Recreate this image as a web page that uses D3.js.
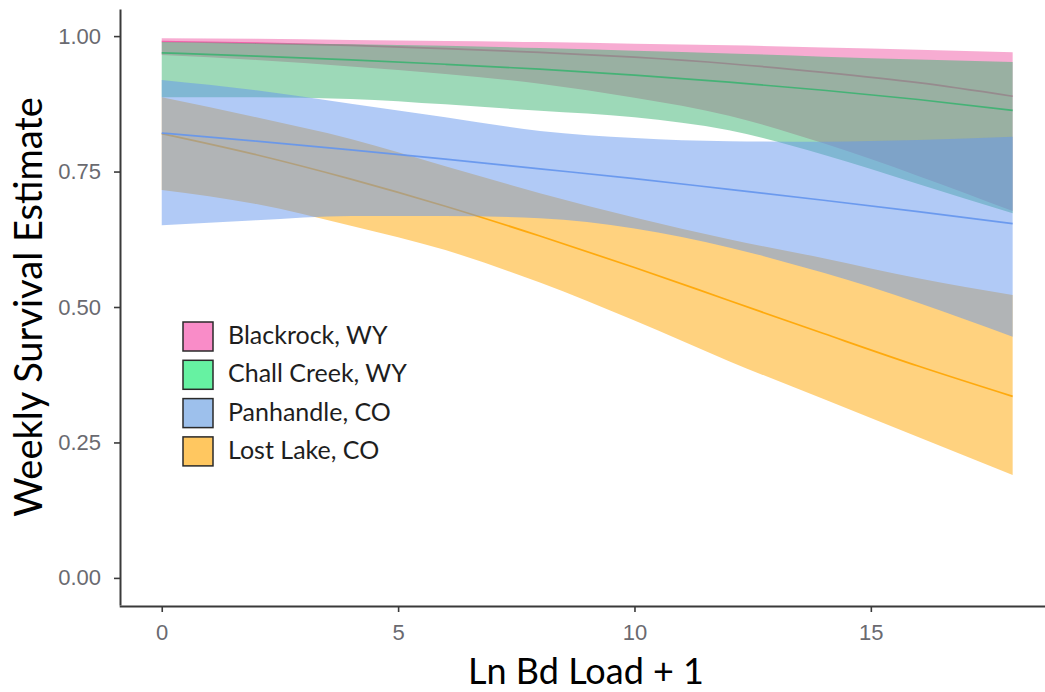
<!DOCTYPE html>
<html>
<head>
<meta charset="utf-8">
<script src="https://cdn.jsdelivr.net/npm/d3@7"></script>
<style>
html,body{margin:0;padding:0;background:#fff;overflow:hidden}
</style>
</head>
<body>
<svg id="chart" width="1045" height="692"></svg>
<script>
// ---- data ----
const bdLoad = [0, 2, 4, 6, 8, 10, 12, 14, 16, 18];

const blackrockFit   = [0.990, 0.987, 0.983, 0.977, 0.970, 0.961, 0.949, 0.933, 0.914, 0.889];
const blackrockUpper = [0.996, 0.995, 0.993, 0.991, 0.989, 0.986, 0.983, 0.979, 0.975, 0.970];
const blackrockLower = [0.965, 0.956, 0.944, 0.930, 0.912, 0.886, 0.853, 0.802, 0.742, 0.677];

const challFit   = [0.969, 0.963, 0.956, 0.948, 0.939, 0.928, 0.915, 0.900, 0.883, 0.863];
const challUpper = [0.989, 0.987, 0.985, 0.982, 0.978, 0.973, 0.968, 0.962, 0.957, 0.952];
const challLower = [0.887, 0.887, 0.884, 0.874, 0.862, 0.850, 0.826, 0.781, 0.727, 0.673];

const panhandleFit   = [0.821, 0.806, 0.790, 0.773, 0.755, 0.737, 0.717, 0.697, 0.676, 0.654];
const panhandleUpper = [0.919, 0.900, 0.875, 0.850, 0.825, 0.812, 0.806, 0.805, 0.808, 0.814];
const panhandleLower = [0.651, 0.660, 0.668, 0.668, 0.664, 0.645, 0.610, 0.563, 0.508, 0.445];

const lostLakeFit   = [0.820, 0.781, 0.736, 0.686, 0.631, 0.573, 0.512, 0.451, 0.391, 0.335];
const lostLakeUpper = [0.887, 0.850, 0.810, 0.760, 0.710, 0.665, 0.625, 0.590, 0.553, 0.522];
const lostLakeLower = [0.716, 0.690, 0.650, 0.605, 0.545, 0.475, 0.400, 0.330, 0.260, 0.190];

const siteNames   = ["Blackrock, WY", "Chall Creek, WY", "Panhandle, CO", "Lost Lake, CO"];
const drawOrder   = ["Blackrock, WY", "Chall Creek, WY", "Lost Lake, CO", "Panhandle, CO"];
const ribbonColors = ["#F05AA5", "#3CB371", "#6495ED", "#FFA500"];
const legendColors = ["#F98CC8", "#66F2A2", "#9DC0EC", "#FFC760"];

const yTicks = [0, 0.25, 0.5, 0.75, 1];
const xTicks = [0, 5, 10, 15];
const xTitle = "Ln Bd Load + 1";
const yTitle = "Weekly Survival Estimate";

// ---- build series ----
const seriesData = {
  "Blackrock, WY":   {fit: blackrockFit, lo: blackrockLower, hi: blackrockUpper},
  "Chall Creek, WY": {fit: challFit, lo: challLower, hi: challUpper},
  "Panhandle, CO":   {fit: panhandleFit, lo: panhandleLower, hi: panhandleUpper},
  "Lost Lake, CO":   {fit: lostLakeFit, lo: lostLakeLower, hi: lostLakeUpper}
};
const colorOf = d3.scaleOrdinal().domain(siteNames).range(ribbonColors);
const legendColorOf = d3.scaleOrdinal().domain(siteNames).range(legendColors);

const svg = d3.select("#chart");

const x = d3.scaleLinear().domain([-0.9, 18.9]).range([119.2, 1055.2]);
const y = d3.scaleLinear().domain([-0.05, 1.05]).range([605, 9]);

const area = d3.area()
  .x(d => x(d.x)).y0(d => y(d.lo)).y1(d => y(d.hi))
  .curve(d3.curveMonotoneX);
const line = d3.line()
  .x(d => x(d.x)).y(d => y(d.fit))
  .curve(d3.curveMonotoneX);

const plot = svg.append("g");
drawOrder.forEach(name => {
  const s = seriesData[name];
  const pts = bdLoad.map((v, i) => ({x: v, fit: s.fit[i], lo: s.lo[i], hi: s.hi[i]}));
  plot.append("path").datum(pts)
    .attr("d", area)
    .attr("fill", colorOf(name))
    .attr("fill-opacity", 0.5)
    .attr("stroke", "none");
  plot.append("path").datum(pts)
    .attr("d", line)
    .attr("fill", "none")
    .attr("stroke", colorOf(name))
    .attr("stroke-width", 1.7)
    .attr("stroke-opacity", 0.9);
});

// ---- axes ----
const gy = svg.append("g").attr("transform", "translate(120,0)")
  .call(d3.axisLeft(y).tickValues(yTicks).tickFormat(d3.format(".2f"))
    .tickSize(6).tickPadding(13).tickSizeOuter(0));
const gx = svg.append("g").attr("transform", "translate(0,606)")
  .call(d3.axisBottom(x).tickValues(xTicks).tickFormat(d3.format("d"))
    .tickSize(6).tickPadding(12).tickSizeOuter(0));

[gx, gy].forEach(g => {
  g.select(".domain").attr("stroke", "#3a3a3a").attr("stroke-width", 2);
  g.selectAll(".tick line").attr("stroke", "#3a3a3a").attr("stroke-width", 1.6);
  g.selectAll(".tick text")
    .attr("fill", "#6a6a70")
    .style("font-family", "'Liberation Sans', Arial, sans-serif")
    .style("font-size", "22px");
});

// ---- titles ----
svg.append("text")
  .attr("x", 586).attr("y", 684)
  .attr("text-anchor", "middle")
  .style("font-family", "Lato, 'Open Sans', sans-serif")
  .style("font-size", "36px")
  .attr("fill", "#000")
  .text(xTitle);

svg.append("text")
  .attr("transform", "translate(42,307) rotate(-90)")
  .attr("text-anchor", "middle")
  .style("font-family", "Lato, 'Open Sans', sans-serif")
  .style("font-size", "38px")
  .attr("fill", "#000")
  .text(yTitle);

// ---- legend ----
const legend = svg.append("g").attr("transform", "translate(183,322)");
const rows = legend.selectAll("g").data(siteNames).join("g")
  .attr("transform", (d, i) => `translate(0,${i * 38.3})`);
rows.append("rect")
  .attr("x", 0).attr("y", 0).attr("width", 30).attr("height", 29)
  .attr("fill", d => legendColorOf(d))
  .attr("stroke", "#2a2a2a").attr("stroke-width", 1.5);
rows.append("text")
  .attr("x", 45).attr("y", 22)
  .style("font-family", "Lato, 'Open Sans', sans-serif")
  .style("font-size", "25px")
  .attr("fill", "#1e1e1e")
  .text(d => d);
</script>
</body>
</html>
